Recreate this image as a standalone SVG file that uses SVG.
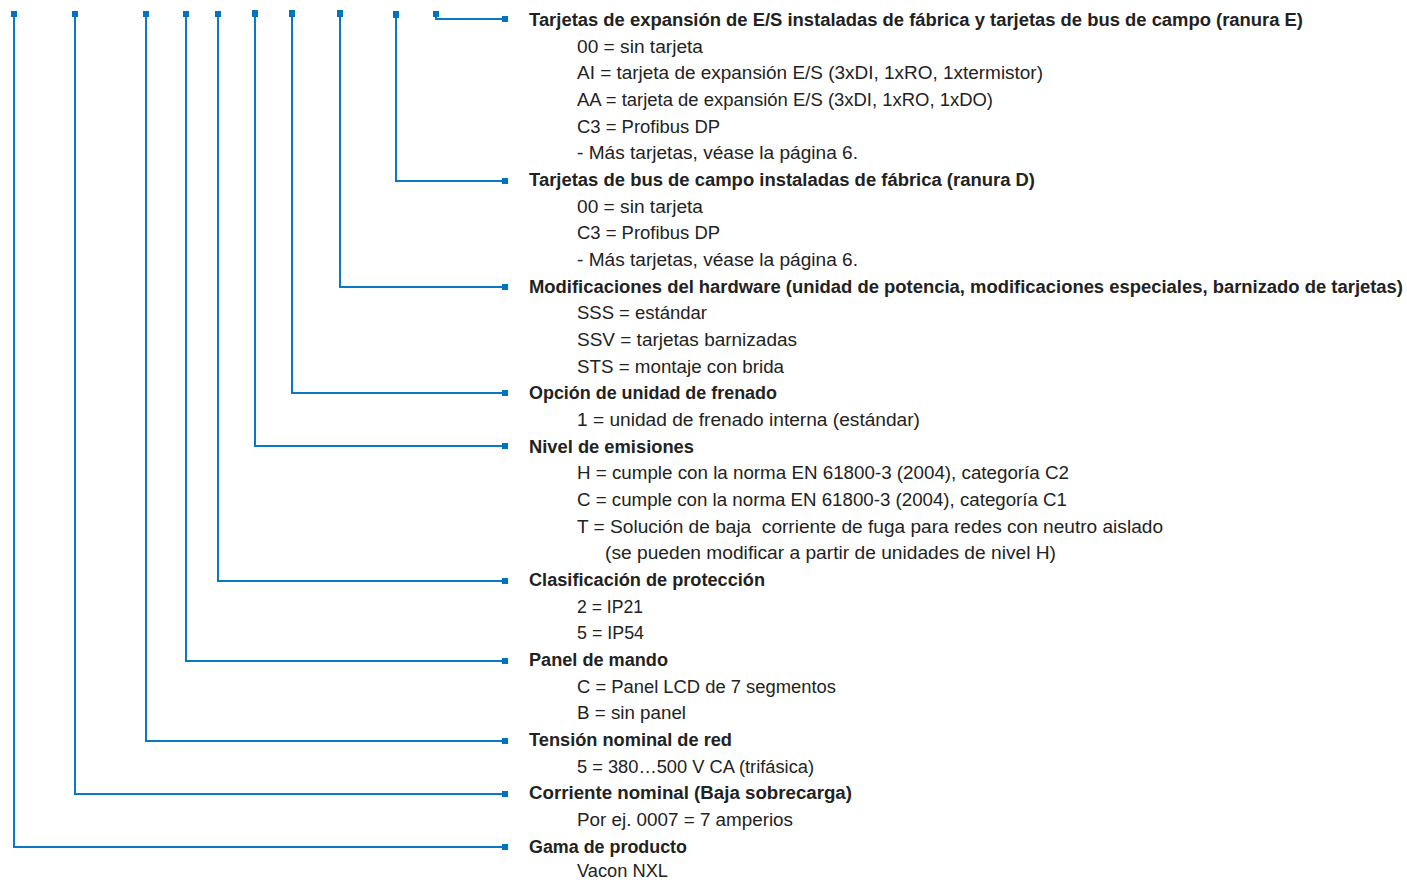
<svg xmlns="http://www.w3.org/2000/svg" width="1407" height="880" viewBox="0 0 1407 880">
<style>
.ln{fill:none;stroke:#0a78c2;stroke-width:2}
.mk{fill:#0073c0}
.h{font-family:"Liberation Sans",Arial,sans-serif;font-size:17.5px;font-weight:bold;fill:#222}
.t{font-family:"Liberation Sans",Arial,sans-serif;font-size:17.5px;fill:#222}
</style>
<rect width="1407" height="880" fill="#fff"/>
<g id="connectors">
<polyline class="ln" points="436,14 436,19 505,19"/>
<polyline class="ln" points="396,14 396,181 505,181"/>
<polyline class="ln" points="340,14 340,287 505,287"/>
<polyline class="ln" points="292,14 292,393 505,393"/>
<polyline class="ln" points="255,14 255,446 505,446"/>
<polyline class="ln" points="218,14 218,581 505,581"/>
<polyline class="ln" points="186,14 186,661 505,661"/>
<polyline class="ln" points="146,14 146,741 505,741"/>
<polyline class="ln" points="75,14 75,794 505,794"/>
<polyline class="ln" points="14,14 14,847 505,847"/>
</g>
<g id="markers">
<rect class="mk" x="11" y="11" width="6" height="6"/>
<rect class="mk" x="72" y="11" width="6" height="6"/>
<rect class="mk" x="143" y="11" width="6" height="6"/>
<rect class="mk" x="183" y="11" width="6" height="6"/>
<rect class="mk" x="215" y="11" width="6" height="6"/>
<rect class="mk" x="252" y="10" width="6" height="7"/>
<rect class="mk" x="289" y="10" width="6" height="7"/>
<rect class="mk" x="337" y="10" width="6" height="7"/>
<rect class="mk" x="393" y="11" width="6" height="7"/>
<rect class="mk" x="433" y="11" width="6" height="6"/>
<rect class="mk" x="502" y="16" width="6" height="6"/>
<rect class="mk" x="502" y="178" width="6" height="6"/>
<rect class="mk" x="502" y="284" width="6" height="6"/>
<rect class="mk" x="502" y="390" width="6" height="6"/>
<rect class="mk" x="502" y="443" width="6" height="6"/>
<rect class="mk" x="502" y="578" width="6" height="6"/>
<rect class="mk" x="502" y="658" width="6" height="6"/>
<rect class="mk" x="502" y="738" width="6" height="6"/>
<rect class="mk" x="502" y="791" width="6" height="6"/>
<rect class="mk" x="502" y="844" width="6" height="6"/>
</g>
<g id="node-ranura-e">
<text class="h" x="529" y="26" textLength="774" lengthAdjust="spacingAndGlyphs">Tarjetas de expansión de E/S instaladas de fábrica y tarjetas de bus de campo (ranura E)</text>
<text class="t" x="577" y="53" textLength="126" lengthAdjust="spacingAndGlyphs">00 = sin tarjeta</text>
<text class="t" x="577" y="79" textLength="466" lengthAdjust="spacingAndGlyphs">AI = tarjeta de expansión E/S (3xDI, 1xRO, 1xtermistor)</text>
<text class="t" x="577" y="106" textLength="416" lengthAdjust="spacingAndGlyphs">AA = tarjeta de expansión E/S (3xDI, 1xRO, 1xDO)</text>
<text class="t" x="577" y="133" textLength="143" lengthAdjust="spacingAndGlyphs">C3 = Profibus DP</text>
<text class="t" x="577" y="159" textLength="281" lengthAdjust="spacingAndGlyphs">- Más tarjetas, véase la página 6.</text>
</g>
<g id="node-ranura-d">
<text class="h" x="529" y="186" textLength="506" lengthAdjust="spacingAndGlyphs">Tarjetas de bus de campo instaladas de fábrica (ranura D)</text>
<text class="t" x="577" y="213" textLength="126" lengthAdjust="spacingAndGlyphs">00 = sin tarjeta</text>
<text class="t" x="577" y="239" textLength="143" lengthAdjust="spacingAndGlyphs">C3 = Profibus DP</text>
<text class="t" x="577" y="266" textLength="281" lengthAdjust="spacingAndGlyphs">- Más tarjetas, véase la página 6.</text>
</g>
<g id="node-hardware">
<text class="h" x="529" y="293" textLength="874" lengthAdjust="spacingAndGlyphs">Modificaciones del hardware (unidad de potencia, modificaciones especiales, barnizado de tarjetas)</text>
<text class="t" x="577" y="319" textLength="130" lengthAdjust="spacingAndGlyphs">SSS = estándar</text>
<text class="t" x="577" y="346" textLength="220" lengthAdjust="spacingAndGlyphs">SSV = tarjetas barnizadas</text>
<text class="t" x="577" y="373" textLength="207" lengthAdjust="spacingAndGlyphs">STS = montaje con brida</text>
</g>
<g id="node-frenado">
<text class="h" x="529" y="399" textLength="248" lengthAdjust="spacingAndGlyphs">Opción de unidad de frenado</text>
<text class="t" x="577" y="426" textLength="343" lengthAdjust="spacingAndGlyphs">1 = unidad de frenado interna (estándar)</text>
</g>
<g id="node-emisiones">
<text class="h" x="529" y="453" textLength="165" lengthAdjust="spacingAndGlyphs">Nivel de emisiones</text>
<text class="t" x="577" y="479" textLength="492" lengthAdjust="spacingAndGlyphs">H = cumple con la norma EN 61800-3 (2004), categoría C2</text>
<text class="t" x="577" y="506" textLength="490" lengthAdjust="spacingAndGlyphs">C = cumple con la norma EN 61800-3 (2004), categoría C1</text>
<text class="t" x="577" y="533" textLength="586" lengthAdjust="spacingAndGlyphs" xml:space="preserve" style="white-space:pre">T = Solución de baja  corriente de fuga para redes con neutro aislado</text>
<text class="t" x="605" y="559" textLength="451" lengthAdjust="spacingAndGlyphs">(se pueden modificar a partir de unidades de nivel H)</text>
</g>
<g id="node-proteccion">
<text class="h" x="529" y="586" textLength="236" lengthAdjust="spacingAndGlyphs">Clasificación de protección</text>
<text class="t" x="577" y="613" textLength="66" lengthAdjust="spacingAndGlyphs">2 = IP21</text>
<text class="t" x="577" y="639" textLength="67" lengthAdjust="spacingAndGlyphs">5 = IP54</text>
</g>
<g id="node-panel">
<text class="h" x="529" y="666" textLength="139" lengthAdjust="spacingAndGlyphs">Panel de mando</text>
<text class="t" x="577" y="693" textLength="259" lengthAdjust="spacingAndGlyphs">C = Panel LCD de 7 segmentos</text>
<text class="t" x="577" y="719" textLength="109" lengthAdjust="spacingAndGlyphs">B = sin panel</text>
</g>
<g id="node-tension">
<text class="h" x="529" y="746" textLength="203" lengthAdjust="spacingAndGlyphs">Tensión nominal de red</text>
<text class="t" x="577" y="773" textLength="237" lengthAdjust="spacingAndGlyphs">5 = 380…500 V CA (trifásica)</text>
</g>
<g id="node-corriente">
<text class="h" x="529" y="799" textLength="323" lengthAdjust="spacingAndGlyphs">Corriente nominal (Baja sobrecarga)</text>
<text class="t" x="577" y="826" textLength="216" lengthAdjust="spacingAndGlyphs">Por ej. 0007 = 7 amperios</text>
</g>
<g id="node-gama">
<text class="h" x="529" y="853" textLength="158" lengthAdjust="spacingAndGlyphs">Gama de producto</text>
<text class="t" x="577" y="877" textLength="91" lengthAdjust="spacingAndGlyphs">Vacon NXL</text>
</g>
</svg>
